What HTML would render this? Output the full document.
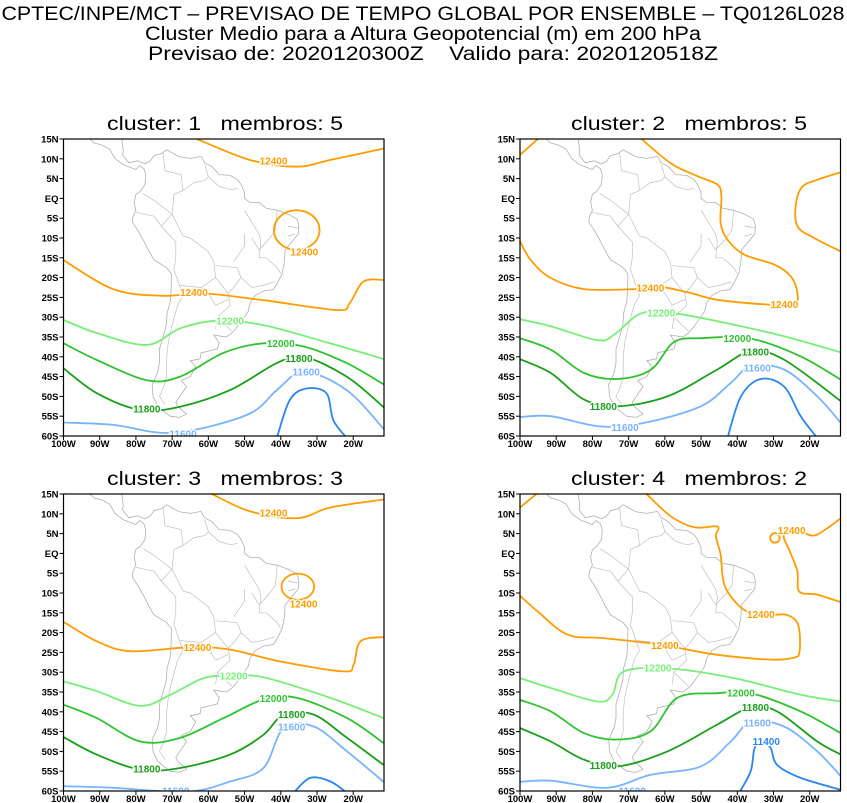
<!DOCTYPE html>
<html><head><meta charset="utf-8">
<style>
html,body{margin:0;padding:0;background:#fff;}
svg{display:block;font-family:"Liberation Sans",sans-serif;}
text{white-space:pre;}
</style></head>
<body>
<svg id="chart" width="847" height="803" viewBox="0 0 847 803" xmlns="http://www.w3.org/2000/svg">
<g font-size="19" fill="#000" text-anchor="middle">
<text x="423" y="20" textLength="843" lengthAdjust="spacingAndGlyphs">CPTEC/INPE/MCT – PREVISAO DE TEMPO GLOBAL POR ENSEMBLE – TQ0126L028</text>
<text x="423" y="40" textLength="556" lengthAdjust="spacingAndGlyphs">Cluster Medio para a Altura Geopotencial (m) em 200 hPa</text>
<text x="433" y="60" textLength="570" lengthAdjust="spacingAndGlyphs">Previsao de: 2020120300Z    Valido para: 2020120518Z</text>
</g>
</svg>
<script>
// ---- data ----
const panelTitles = ["cluster: 1   membros: 5","cluster: 2   membros: 5","cluster: 3   membros: 3","cluster: 4   membros: 2"];
const latTicks = [15,10,5,0,-5,-10,-15,-20,-25,-30,-35,-40,-45,-50,-55,-60];
const latTickLabels = ["15N","10N","5N","EQ","5S","10S","15S","20S","25S","30S","35S","40S","45S","50S","55S","60S"];
const lonTicks = [-100,-90,-80,-70,-60,-50,-40,-30,-20];
const lonTickLabels = ["100W","90W","80W","70W","60W","50W","40W","30W","20W"];
const levelColors = {"12400":"#ff9d00","12200":"#78ee78","12000":"#30c230","11800":"#1a9f1a","11600":"#78b4ff","11400":"#2a86ee"};

// contour lines: [level, lon array, lat array]
const p1 = [
 ["12400",[-63.2,-48.5,-35.6,-26.4,-11.5],[15,9.7,8,9.7,12.6]],
 ["12400",[-100,-86,-72.4,-61.4,-44.8,-24.5,-21,-17.2,-11.5],[-15.6,-23,-24.6,-24,-25.7,-28.2,-26.5,-21,-20.6]],
 ["12200",[-100,-90.8,-77,-67.8,-57.7,-44.8,-26.4,-11.5],[-30.7,-34,-37,-32.8,-30.9,-32,-36.6,-40.6]],
 ["12000",[-100,-90.8,-77,-67.8,-55.8,-44.8,-33.7,-21.8,-11.5],[-36.6,-40.8,-45.9,-45,-39,-36.6,-37.4,-41.6,-47]],
 ["11800",[-100,-90.8,-78.9,-67.8,-54,-41.1,-33.7,-21.8,-11.5],[-42.9,-49.2,-53.4,-52.6,-48.4,-41.6,-40,-45,-52.8]],
 ["11600",[-100,-86.2,-69.7,-49.4,-41.1,-33.7,-21.8,-11.5],[-56.6,-57.2,-59.2,-54.7,-48.4,-43.8,-48.4,-58.3]],
 ["11400",[-41.1,-37.5,-32.9,-27.4,-25.5,-21.8],[-60.5,-50.9,-48,-49.2,-56,-60.5]]
];
const p2 = [
 ["12400",[-100,-94.8],[11,15.2]],
 ["12400",[-66.7,-58.4,-51,-45.5,-44.4,-44.6,-42.7,-38.1,-29.8,-25.2,-23.4,-24.3,-31.7,-45.5,-52.9,-62.1,-68.5,-82.3,-91.5,-97.1,-100],[15.2,8.9,5.6,3.5,0.5,-6.2,-10.4,-14.2,-16.7,-19.7,-23.9,-26.8,-26.8,-25.6,-23.9,-22.2,-22.9,-22.9,-20.1,-15.5,-10.8]],
 ["12400",[-11.4,-17.9,-22,-23.8,-23.4,-18.8,-11.4],[6.6,4.7,3,-1.2,-7,-10,-13.4]],
 ["12200",[-100,-91.5,-78.6,-74,-66.7,-58.4,-45.5,-27.1,-11.4],[-30.5,-32.3,-35.8,-34.4,-29.1,-28.9,-31,-34.8,-38.9]],
 ["12000",[-100,-91.5,-82.3,-73.1,-63.9,-57.5,-50.1,-36.3,-22.5,-11.4],[-35.3,-38.2,-44.1,-45.6,-43.3,-36.3,-35.3,-35.4,-39.9,-45.8]],
 ["11800",[-100,-91.5,-82.3,-73.1,-59.3,-45.5,-36.3,-27.1,-11.4],[-40.6,-44.1,-50.8,-52.5,-50,-43.2,-38.6,-40.7,-51.2]],
 ["11600",[-100,-91.5,-77.7,-65.7,-50.1,-41.8,-36.3,-27.1,-17.9,-11.4],[-55.2,-55,-57.6,-56.7,-52.5,-46.6,-42.4,-43.2,-50,-56.7]],
 ["11400",[-42.7,-39,-33.5,-27.1,-22.5,-17.9],[-60.5,-50,-45.6,-47.5,-55,-60.5]]
];
const p3 = [
 ["12400",[-59.5,-48.4,-35.5,-26.3,-11.6],[15.2,10.6,8.9,11.6,13.6]],
 ["12400",[-100,-90.8,-81.6,-65,-54,-40.1,-22.7,-19.9,-18,-11.6],[-17.3,-22.2,-24.7,-23.7,-24.3,-27.3,-29.8,-28.1,-22.2,-21.1]],
 ["12200",[-100,-90.8,-78.8,-70.5,-61.3,-54,-44.8,-26.3,-11.6],[-32.3,-34.8,-38.5,-35.7,-31.5,-31,-31.3,-36.5,-41.6]],
 ["12000",[-100,-90.8,-78.8,-67.8,-55.8,-44.8,-35.5,-21.7,-11.6],[-38.2,-41.6,-47.5,-46.6,-41.6,-36.9,-36.5,-41.6,-47.9]],
 ["11800",[-100,-90.8,-78.8,-67.8,-54,-44.8,-39.2,-30.9,-21.7,-11.6],[-46.4,-50.8,-54.6,-54.2,-50.8,-45.8,-40.7,-40.7,-46.6,-53.4]],
 ["11600",[-100,-86.2,-65.9,-54,-44.8,-39.2,-30.9,-21.7,-11.6],[-58.8,-59.2,-60.2,-57.6,-54.2,-44.1,-43.7,-50,-57.7]],
 ["11400",[-36.5,-31.9,-26.3,-21.7],[-60.5,-56.7,-57.6,-60.5]]
];
const p4 = [
 ["12400",[-100,-95.2],[11.6,15.2]],
 ["12400",[-65.3,-58.4,-51.9,-45.5,-45.9,-44.6,-43.6,-39.9,-36.3,-31,-26.4,-23.2,-22.8,-24.6,-31.7,-45.5,-53.8,-61.1,-77,-86.9,-95.2,-100],[15.2,9.4,6.6,6.8,4.3,-0.3,-7.9,-12.9,-15,-15.6,-15.5,-18,-24.7,-26.4,-26.8,-25.6,-24.3,-23,-21.4,-20.5,-14.6,-10.7]],
 ["12400",[-11.4,-15.1,-18.8,-22.5,-27.1,-25.5,-23.4,-22.9,-17.9,-11.4],[8.9,6.4,4.5,5.3,4.7,0.5,-4.5,-9.6,-10.4,-12.3]],
 ["12200",[-100,-91.5,-78.6,-74.5,-71.3,-58.4,-40.9,-22.5,-11.4],[-31.5,-34,-37.4,-35.7,-29.8,-29.1,-31.5,-35.7,-37.4]],
 ["12000",[-100,-91.5,-82.3,-73.1,-63.9,-56.6,-45.5,-36.3,-22.5,-11.4],[-37,-39.9,-45.4,-47,-44.9,-36.5,-35.3,-35.3,-39.9,-45.4]],
 ["11800",[-100,-91.5,-82.3,-73.1,-59.3,-45.5,-36.3,-29,-17.9,-11.4],[-44.1,-47.5,-52.1,-53.8,-50,-43.2,-38.9,-39.9,-47.5,-50.8]],
 ["11600",[-100,-91.5,-75.9,-63.9,-50.1,-41.8,-36.3,-27.1,-17.9,-11.4],[-57.7,-57.4,-59.2,-55.9,-53.8,-47.5,-42.6,-43.7,-50,-56.3]],
 ["11400",[-39.5,-36.3,-35.2,-33,-30.8,-29,-22.5,-11.4],[-60.5,-55,-49.1,-48,-49.1,-53.4,-56.7,-59.7]]
];
// closed loops: [level, centerLon, centerLat, radiusLon, radiusLat]
const loops = [
 [["12400",-35.6,-8,6.3,5]],
 [],
 [["12400",-35.3,-8.4,4.5,3.3]],
 [["12400",-29.6,3.9,1.3,1.2]]
];
// labels: [text, lon, lat]
const labels = [
 [["12400",-42,9.5],["12400",-33.5,-13.5],["12400",-64,-23.7],["12200",-54,-31],["12000",-40,-36.6],["11800",-35,-40.4],["11600",-33,-43.8],["11800",-77,-53.2],["11600",-67,-59.5]],
 [["12400",-64,-22.6],["12400",-27,-26.8],["12200",-61,-29],["12000",-40,-35.4],["11800",-35,-38.8],["11600",-34.5,-42.8],["11800",-77,-52.5],["11600",-71,-57.9]],
 [["12400",-42,10.2],["12400",-33.7,-12.8],["12400",-63,-23.7],["12200",-53,-31],["12000",-42,-36.7],["11800",-37,-40.7],["11600",-37,-43.9],["11800",-77,-54.4],["11600",-69,-60]],
 [["12400",-25,5.8],["12400",-33.5,-15.4],["12400",-60,-23.2],["12200",-62,-29],["12000",-39,-35.3],["11800",-35,-38.9],["11600",-34.5,-42.8],["11400",-32,-47.5],["11800",-77,-53.5],["11600",-69,-60]]
];
const panelContours = [p1,p2,p3,p4];
// coastline [lon,lat] pairs
const coast = [[-97,22],[-94,18.5],[-91,18.8],[-90.5,21],[-87,21.5],[-88,18],[-88.5,16],[-84,15.8],[-83.5,12],[-83.7,11],[-82,9],[-79.5,9.5],[-77.5,8.7],[-76,9.5],[-75,10.8],[-73,11.3],[-71.5,12.3],[-70,11.5],[-68,10.5],[-65,10.1],[-62,10.6],[-61,9],[-59,8],[-57,6],[-54,5.8],[-52,4.8],[-51,3.5],[-50,1.5],[-50,0],[-48.5,-1],[-46,-1],[-44,-2.5],[-41,-3],[-38,-4],[-35.5,-5.2],[-35,-7],[-35.2,-9],[-37,-11],[-38.8,-13],[-39,-16],[-39.6,-19],[-41,-21.5],[-42,-23],[-44.5,-23.3],[-47,-24.5],[-48.5,-26.5],[-49,-28.5],[-50.5,-30.5],[-52.5,-33],[-53.5,-34],[-55,-35],[-56.5,-34.8],[-58.5,-34.5],[-57,-36.5],[-57.5,-38],[-62,-39],[-62.3,-40.5],[-65,-41],[-63.5,-42.5],[-65,-45],[-67.5,-46],[-66,-47.5],[-67.5,-49.5],[-69,-51.5],[-68.5,-52.5],[-66,-54.5],[-68,-55.3],[-70.5,-55],[-72,-54],[-74,-52.5],[-75.3,-50],[-75.5,-47],[-74,-44],[-73.5,-41.5],[-73.5,-38],[-72.5,-35],[-71.6,-32],[-71.4,-29],[-70.5,-26],[-70.3,-23],[-70.2,-19],[-71.5,-17.5],[-75,-15.5],[-76.3,-13.5],[-78,-10.5],[-79.5,-8],[-81,-6],[-80.8,-4.5],[-80,-3],[-80.5,-1],[-80,1],[-78.8,1.8],[-77.5,3.5],[-77.3,6],[-77.8,7.5],[-79,8.3],[-80,7.3],[-81.5,7.8],[-83.5,8.5],[-85.7,10],[-87.3,12.5],[-89.5,13.5],[-91.5,14],[-94,16],[-96.5,15.7],[-98.5,16.3],[-100,17]];
// internal borders [lon,lat] pair lists
const borders = [
 [[-78,1.2],[-75,-0.5],[-70,-4],[-69.5,1],[-67,2],[-67.5,6],[-72,7],[-72.5,11.5]],
 [[-67,2],[-64,4],[-61,4.5],[-60,5.5],[-61,8.5]],
 [[-60,5.5],[-57,3],[-54,2.2],[-52,2.5]],
 [[-80,-3.5],[-75,-4.5],[-73,-7],[-70,-10],[-69,-11],[-69,-15]],
 [[-73,-7],[-70,-4],[-67,-9.5],[-65,-10],[-60,-13.5],[-58.5,-16],[-58,-20],[-54.5,-24],[-54,-27],[-57.5,-30],[-53.5,-33.5]],
 [[-69,-15],[-69.5,-18],[-68,-22],[-62,-22.5],[-58,-20]],
 [[-62,-22.5],[-60,-24],[-58,-27],[-54.5,-25.5]],
 [[-68,-22],[-67,-24.5],[-68.5,-27],[-70,-32],[-71,-36],[-71.5,-40],[-71.5,-45],[-72.5,-48],[-73.5,-50],[-72,-52]],
 [[-58,-33],[-57.5,-30]],
 [[-50,-3],[-48,-6],[-46,-9],[-45.5,-11],[-46,-15]],
 [[-41,-3],[-41.5,-8],[-43,-10],[-46,-13]],
 [[-46,-15],[-44,-15],[-41,-17.5],[-40,-19]],
 [[-51,-20],[-48,-22.5],[-45,-22],[-41.5,-21]],
 [[-58,-17],[-52,-17.5],[-51,-20],[-53,-22.5],[-54.5,-24]],
 [[-53,-16],[-50,-12],[-50,-9]],
 [[-48,-10],[-46,-13]],
 [[-38,-9.5],[-36,-9]],[[-38,-7],[-35,-7.5]]
];

// ---- drawing ----
const NS = "http://www.w3.org/2000/svg";
const svg = document.getElementById("chart");
const panels = [{x:63.5,y:139,tc:225},{x:520,y:139,tc:689},{x:63.5,y:494,tc:225},{x:520,y:494,tc:689}];
const W = 320.5, H = 297;
const lonMin=-100, lonMax=-11.5, latMin=-60, latMax=15;
function mk(tag, attrs, parent){const e=document.createElementNS(NS,tag);for(const k in attrs)e.setAttribute(k,attrs[k]);parent.appendChild(e);return e;}
function smoothPath(pts){
  let d="M"+pts[0][0].toFixed(1)+","+pts[0][1].toFixed(1);
  for(let i=0;i<pts.length-1;i++){
    const p0=pts[Math.max(0,i-1)],p1=pts[i],p2=pts[i+1],p3=pts[Math.min(pts.length-1,i+2)];
    const c1=[p1[0]+(p2[0]-p0[0])/6,p1[1]+(p2[1]-p0[1])/6];
    const c2=[p2[0]-(p3[0]-p1[0])/6,p2[1]-(p3[1]-p1[1])/6];
    d+=" C"+c1[0].toFixed(1)+","+c1[1].toFixed(1)+" "+c2[0].toFixed(1)+","+c2[1].toFixed(1)+" "+p2[0].toFixed(1)+","+p2[1].toFixed(1);
  }
  return d;
}
panels.forEach((P,pi)=>{
  const xs = lon=>P.x+(lon-lonMin)/(lonMax-lonMin)*W;
  const ys = lat=>P.y+(latMax-lat)/(latMax-latMin)*H;
  const g = mk("g",{},svg);
  
  
  const t = mk("text",{x:P.tc,y:P.y-9,"font-size":19,"text-anchor":"middle",fill:"#000",textLength:236,lengthAdjust:"spacingAndGlyphs"},g);
  
  
  t.textContent = panelTitles[pi];
  const clipId="clip"+pi;
  const cp=mk("clipPath",{id:clipId},g);
  mk("rect",{x:P.x,y:P.y,width:W,height:H},cp);
  const mapg=mk("g",{"clip-path":"url(#"+clipId+")"},g);
  const cl=mk("polyline",{points:coast.map(p=>xs(p[0]).toFixed(1)+","+ys(p[1]).toFixed(1)).join(" "),fill:"none",stroke:"#b0b0b0","stroke-width":0.8},mapg);
  
  
  borders.forEach(bd=>{
    const b=mk("polyline",{points:bd.map(p=>xs(p[0]).toFixed(1)+","+ys(p[1]).toFixed(1)).join(" "),fill:"none",stroke:"#c0c0c0","stroke-width":0.7},mapg);
    
    
  });
  panelContours[pi].forEach(c=>{
    const pts=c[1].map((lo,i)=>[xs(lo),ys(c[2][i])]);
    const p=mk("path",{d:smoothPath(pts),fill:"none",stroke:levelColors[c[0]],"stroke-width":1.8},mapg);
    
    
  });
  loops[pi].forEach(l=>{
    const e=mk("ellipse",{cx:xs(l[1]),cy:ys(l[2]),rx:l[3]*W/(lonMax-lonMin),ry:l[4]*H/(latMax-latMin),fill:"none",stroke:levelColors[l[0]],"stroke-width":1.8},mapg);
    
    
  });
  labels[pi].forEach(lb=>{
    const tx=mk("text",{x:xs(lb[1]),y:ys(lb[2])+3.5,"font-size":10,"font-weight":"bold","text-anchor":"middle",fill:levelColors[lb[0]],stroke:"#fff","stroke-width":2.5,"paint-order":"stroke"},mapg);
    
    
    tx.textContent=lb[0];
  });
  const fr=mk("rect",{x:P.x,y:P.y,width:W,height:H,fill:"none",stroke:"#000","stroke-width":1.2},g);
  
  
  latTicks.forEach((la,i)=>{
    const y=ys(la);
    mk("line",{x1:P.x-4,y1:y,x2:P.x,y2:y,stroke:"#000","stroke-width":1},g);
    const tl=mk("text",{x:P.x-5,y:y+3.5,"font-size":9.5,"font-weight":"bold","text-anchor":"end",fill:"#000"},g);
    
    
    tl.textContent=latTickLabels[i];
  });
  lonTicks.forEach((lo,i)=>{
    const x=xs(lo);
    mk("line",{x1:x,y1:P.y+H,x2:x,y2:P.y+H+4,stroke:"#000","stroke-width":1},g);
    const tl=mk("text",{x:x,y:P.y+H+11,"font-size":9.5,"font-weight":"bold","text-anchor":"middle",fill:"#000"},g);
    
    
    tl.textContent=lonTickLabels[i];
  });
});
</script>
</body></html>
